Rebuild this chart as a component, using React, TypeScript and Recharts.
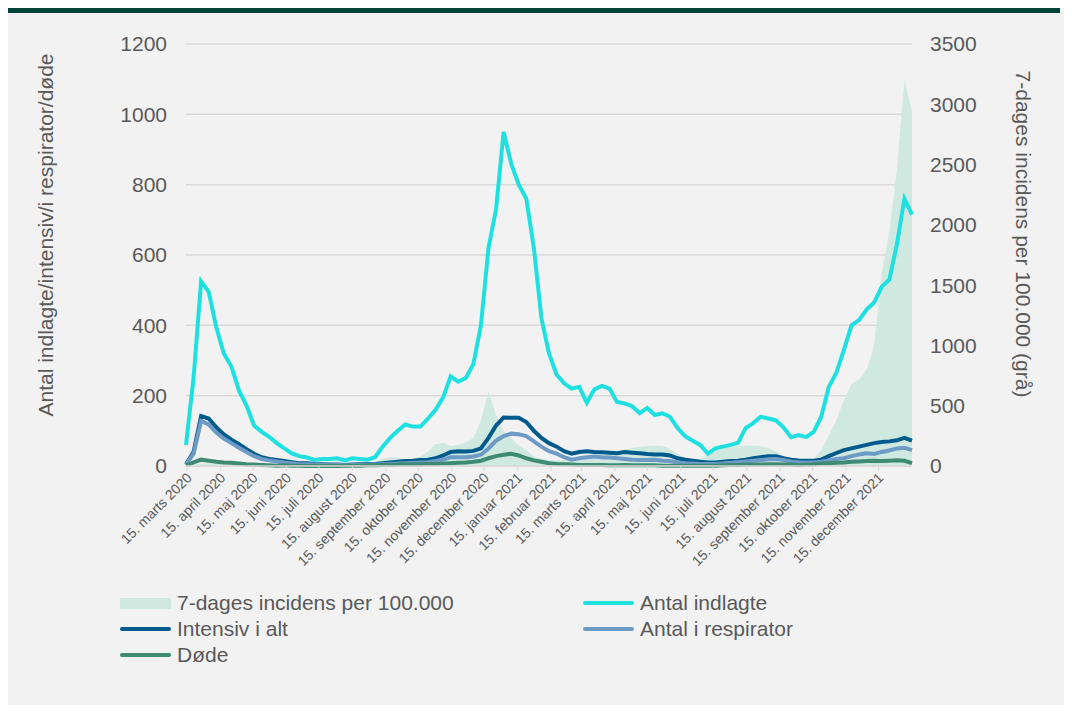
import React from 'react';
import { ComposedChart, Line, Area, XAxis, YAxis, CartesianGrid } from 'recharts';

// weekly readings, first week 14 March 2020
const indlagte = [
  60, 250, 525, 495, 395, 320, 283, 215, 172, 115,
  97, 83, 65, 50, 36, 28, 24, 17, 20, 20,
  22, 16, 22, 20, 18, 25, 55, 80, 100, 118,
  112, 112, 135, 160, 195, 255, 240, 250, 290, 400,
  620, 730, 950, 860, 800, 760, 620, 420, 320, 260,
  235, 220, 225, 180, 218, 228, 220, 182, 178, 170,
  150, 165, 145, 150, 140, 108, 85, 72, 60, 35,
  50, 55, 60, 66, 108, 122, 140, 135, 130, 110,
  82, 88, 82, 97, 140, 225, 265, 330, 400, 415,
  445, 465, 510, 530, 630, 760, 715,
];
const intensiv = [
  5, 40, 142, 135, 110, 90, 75, 62, 48, 35,
  25, 20, 17, 14, 11, 8, 8, 6, 5, 4,
  4, 3, 4, 5, 5, 6, 8, 10, 12, 14,
  15, 17, 18, 22, 30, 40, 42, 41, 43, 50,
  80, 115, 138, 137, 137, 125, 100, 80, 65, 55,
  42, 35, 40, 42, 40, 39, 38, 36, 40, 38,
  36, 34, 33, 33, 30, 22, 18, 15, 12, 10,
  10, 12, 14, 15, 18, 22, 25, 28, 28, 22,
  18, 16, 15, 15, 18, 28, 37, 45, 50, 55,
  60, 65, 68, 70, 73, 80, 72,
];
const respirator = [
  4, 35, 128, 118, 95, 78, 65, 52, 40, 28,
  20, 16, 13, 10, 8, 6, 5, 4, 3, 3,
  3, 2, 3, 3, 3, 4, 5, 6, 7, 8,
  9, 10, 11, 14, 18, 25, 25, 25, 27, 32,
  50, 72, 85, 92, 90, 85, 70, 55, 42, 35,
  25, 18, 22, 25, 27, 25, 24, 22, 20, 18,
  17, 17, 18, 15, 14, 10, 8, 7, 6, 6,
  6, 7, 9, 11, 13, 15, 17, 19, 20, 17,
  13, 11, 10, 10, 12, 16, 20, 22, 28, 33,
  36, 34, 40, 44, 50, 52, 45,
];
const doede = [
  2, 10, 18, 15, 12, 10, 9, 7, 5, 4,
  3, 2, 1, 2, 1, 1, 0, 1, 0, 1,
  0, 1, 1, 1, 2, 2, 3, 3, 4, 5,
  4, 5, 6, 6, 7, 8, 9, 10, 12, 15,
  22, 28, 32, 35, 30, 22, 16, 12, 8, 6,
  5, 4, 3, 3, 3, 3, 2, 2, 3, 2,
  2, 2, 2, 1, 1, 1, 1, 1, 1, 1,
  1, 2, 3, 3, 4, 4, 4, 5, 5, 4,
  4, 3, 4, 5, 7, 8, 9, 10, 12, 13,
  14, 15, 14, 15, 16, 15, 8,
];
const incidens = [
  10, 15, 20, 20, 18, 18, 15, 12, 8, 6,
  5, 4, 3, 3, 2, 3, 4, 5, 8, 10,
  10, 12, 15, 18, 25, 35, 60, 75, 70, 55,
  60, 80, 120, 180, 190, 165, 175, 200, 230, 380,
  620, 420, 290, 230, 170, 130, 80, 60, 50, 45,
  50, 60, 70, 75, 80, 95, 110, 120, 135, 150,
  160, 165, 170, 165, 140, 100, 70, 50, 60, 90,
  130, 150, 160, 165, 170, 170, 165, 150, 120, 80,
  55, 45, 40, 60, 130, 250, 380, 550, 680, 720,
  800, 1000, 1600, 1950, 2450, 3200, 2950,
];

const months = ['januar', 'februar', 'marts', 'april', 'maj', 'juni', 'juli', 'august',
  'september', 'oktober', 'november', 'december'];

const DAY = 86400000;
const start = Date.UTC(2020, 2, 14);

const data = indlagte.map((v, i) => ({
  t: start + i * 7 * DAY,
  indlagte: v,
  intensiv: intensiv[i],
  respirator: respirator[i],
  doede: doede[i],
  incidens: incidens[i],
}));

const monthTicks: number[] = [];
for (let m = 2; m <= 23; m++) {
  monthTicks.push(Date.UTC(2020 + Math.floor(m / 12), m % 12, 15));
}

const fmtDate = (t: number) => {
  const d = new Date(t);
  return `15. ${months[d.getUTCMonth()]} ${d.getUTCFullYear()}`;
};

const FONT = '"Liberation Sans", Arial, sans-serif';
const GREY = '#595959';

const C_AREA = '#cfe9e0';
const C_INDL = '#1fe0e0';
const C_INT = '#005a8c';
const C_RESP = '#6e9bc5';
const C_DOD = '#3f8a72';

const AngledTick = (props: any) => {
  const { x, y, payload } = props;
  return (
    <text x={x} y={y} dy={8} textAnchor="end" fill={GREY} fontSize={14} fontFamily={FONT}
      transform={`rotate(-45 ${x} ${y})`}>
      {fmtDate(payload.value)}
    </text>
  );
};

const legendItems = [
  { label: '7-dages incidens per 100.000', color: C_AREA, box: true, left: 112, top: 583 },
  { label: 'Antal indlagte', color: C_INDL, box: false, left: 575, top: 583 },
  { label: 'Intensiv i alt', color: C_INT, box: false, left: 112, top: 609 },
  { label: 'Antal i respirator', color: C_RESP, box: false, left: 575, top: 609 },
  { label: 'Døde', color: C_DOD, box: false, left: 112, top: 635 },
];

export default function App() {
  return (
    <div style={{ position: 'relative', width: 1056, height: 697, background: '#f2f2f2', fontFamily: FONT }}>
      <div style={{ position: 'absolute', left: 0, top: -1, width: 1052, height: 6, background: '#00443a' }} />
      <ComposedChart width={1056} height={580} data={data}
        margin={{ top: 36, right: 72, left: 100, bottom: 0 }}>
        <CartesianGrid yAxisId="left" vertical={false} stroke="#d9d9d9" strokeWidth={1.5} />
        <XAxis dataKey="t" type="number" scale="time" domain={['dataMin', 'dataMax']}
          ticks={monthTicks} tick={<AngledTick />} interval={0} height={122}
          axisLine={{ stroke: '#d9d9d9', strokeWidth: 1.5 }} tickLine={{ stroke: '#d9d9d9' }} tickSize={5} />
        <YAxis yAxisId="left" domain={[0, 1200]} ticks={[0, 200, 400, 600, 800, 1000, 1200]}
          width={78} axisLine={false} tickLine={false} tickSize={6} tickMargin={13}
          tick={{ fill: GREY, fontSize: 21, fontFamily: FONT }} />
        <YAxis yAxisId="right" orientation="right" domain={[0, 3500]}
          ticks={[0, 500, 1000, 1500, 2000, 2500, 3000, 3500]} allowDataOverflow
          width={80} axisLine={false} tickLine={false} tickSize={6} tickMargin={12}
          tick={{ fill: GREY, fontSize: 21, fontFamily: FONT }} />
        <Area yAxisId="right" type="linear" dataKey="incidens" fill={C_AREA} fillOpacity={1}
          stroke="none" isAnimationActive={false} />
        <Line yAxisId="left" type="linear" dataKey="indlagte" stroke={C_INDL} strokeWidth={4}
          dot={false} isAnimationActive={false} />
        <Line yAxisId="left" type="linear" dataKey="intensiv" stroke={C_INT} strokeWidth={4}
          dot={false} isAnimationActive={false} />
        <Line yAxisId="left" type="linear" dataKey="respirator" stroke={C_RESP} strokeWidth={4}
          dot={false} isAnimationActive={false} />
        <Line yAxisId="left" type="linear" dataKey="doede" stroke={C_DOD} strokeWidth={4}
          dot={false} isAnimationActive={false} />
      </ComposedChart>

      <div style={{
        position: 'absolute', left: 38, top: 227, transform: 'translate(-50%, -50%) rotate(-90deg)',
        whiteSpace: 'nowrap', fontSize: 21, color: GREY,
      }}>
        Antal indlagte/intensiv/i respirator/døde
      </div>
      <div style={{
        position: 'absolute', left: 1015, top: 226, transform: 'translate(-50%, -50%) rotate(90deg)',
        whiteSpace: 'nowrap', fontSize: 21, color: GREY,
      }}>
        7-dages incidens per 100.000 (grå)
      </div>

      {legendItems.map((it) => (
        <div key={it.label} style={{
          position: 'absolute', left: it.left, top: it.top, height: 24, display: 'flex',
          alignItems: 'center', fontSize: 21, color: GREY, whiteSpace: 'nowrap',
        }}>
          <span style={{
            display: 'inline-block', width: 51, height: it.box ? 11 : 4, background: it.color,
            borderRadius: it.box ? 0 : 2, marginRight: 6,
          }} />
          {it.label}
        </div>
      ))}
    </div>
  );
}
